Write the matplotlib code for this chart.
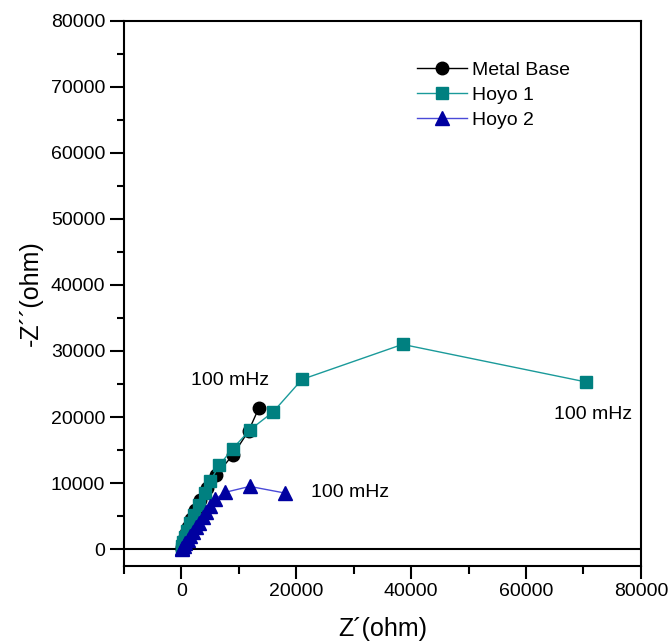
import matplotlib.pyplot as plt
from matplotlib.ticker import MultipleLocator

plt.rcParams["font.family"] = ["Liberation Sans", "DejaVu Sans"]

# Metal Base (Z', -Z'')
base_zr = [13500, 11700, 9000, 6000, 4500, 3300, 2400, 1700, 1200, 800, 500, 300, 150, 50]
base_zi = [21400, 17900, 14300, 11200, 9300, 7500, 5900, 4500, 3400, 2400, 1600, 900, 400, 100]

# Hoyo 1
h1_zr = [70500, 38500, 21000, 16000, 12000, 8900, 6600, 5000, 4100, 3100, 2200, 1500,
         1000, 600, 350, 150, 50]
h1_zi = [25300, 31000, 25700, 20800, 18100, 15200, 12700, 10300, 8500, 6700, 5200, 3900,
         2800, 1900, 1100, 500, 100]

# Hoyo 2
h2_zr = [18000, 11900, 7600, 5900, 4900, 4300, 3700, 3100, 2500, 2000, 1500, 1100,
         700, 400, 150, 30]
h2_zi = [8500, 9500, 8600, 7600, 6500, 5600, 4800, 4000, 3300, 2600, 2000, 1400,
         900, 500, 200, 50]

labels = ["Metal Base", "Hoyo 1", "Hoyo 2"]

fig = plt.figure(figsize=(6.69, 6.44), dpi=100)
ax = fig.add_axes([0.1853, 0.1216, 0.7727, 0.8463])

ax.axhline(0, color="black", lw=1.5, zorder=1)

ax.plot(base_zr, base_zi, color="black", lw=1, marker="o", ms=9,
        mfc="black", mec="black", label=labels[0], zorder=2)
ax.plot(h1_zr, h1_zi, color="#1a9a9a", lw=1, marker="s", ms=8,
        mfc="#008080", mec="#008080", label=labels[1], zorder=3)
ax.plot(h2_zr, h2_zi, color="#4a4ad8", lw=1, marker="^", ms=10,
        mfc="#0000a0", mec="#0000a0", label=labels[2], zorder=4)

ax.text(8500, 25500, "100 mHz", fontsize=14, ha="center", va="center")
ax.text(71700, 20400, "100 mHz", fontsize=14, ha="center", va="center")
ax.text(29300, 8600, "100 mHz", fontsize=14, ha="center", va="center")

ax.set_xlim(-10000, 80000)
ax.set_ylim(-2500, 80000)
ax.xaxis.set_major_locator(MultipleLocator(20000))
ax.xaxis.set_minor_locator(MultipleLocator(10000))
ax.yaxis.set_major_locator(MultipleLocator(10000))
ax.yaxis.set_minor_locator(MultipleLocator(5000))
ax.set_xticks([0, 20000, 40000, 60000, 80000])
ax.set_yticks([0, 10000, 20000, 30000, 40000, 50000, 60000, 70000, 80000])

ax.tick_params(axis="both", which="major", labelsize=14, direction="out", width=1.5)
ax.tick_params(axis="x", which="major", length=9)
ax.tick_params(axis="x", which="minor", length=6, width=1.5)
ax.tick_params(axis="y", which="major", length=10)
ax.tick_params(axis="y", which="minor", length=5, width=1.5)
for s in ax.spines.values():
    s.set_linewidth(1.5)

ax.set_xlabel("Z\u00b4(ohm)", fontsize=18, labelpad=12)
ax.set_ylabel("-Z\u00b4\u00b4(ohm)", fontsize=18, labelpad=6)

ax.legend(loc="upper left", bbox_to_anchor=(0.54, 0.951), frameon=False, fontsize=14,
          handlelength=2.6, handletextpad=0.25, labelspacing=0.38, borderpad=0.2)

fig.savefig("out.png", dpi=100)
